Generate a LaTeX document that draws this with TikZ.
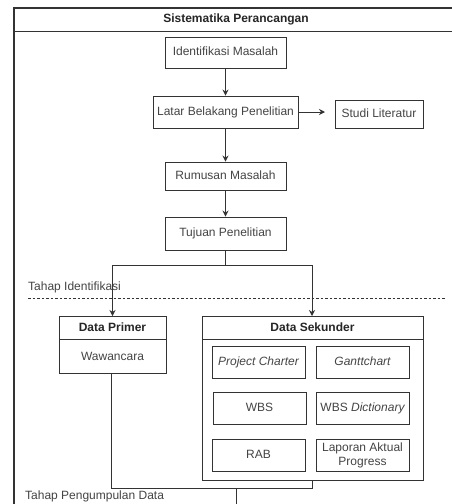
\documentclass[tikz,border=0pt]{standalone}
\usepackage{fontspec}
\setmainfont{Liberation Sans}
\usetikzlibrary{arrows.meta}
\definecolor{ln}{HTML}{333333}
\definecolor{tx}{HTML}{444444}
\tikzset{
  bx/.style={draw=ln, line width=0.9pt, text=tx, font=\fontsize{12}{13}\selectfont, inner sep=0pt, align=center, text height=8.6pt, text depth=2.5pt},
  bx2/.style={draw=ln, line width=0.9pt, text=tx, font=\fontsize{12}{13}\selectfont, inner sep=0pt, align=center},
  conn/.style={draw=ln, line width=0.9pt},
  arr/.style={conn, -{Stealth[length=6pt,width=6pt]}},
  lbl/.style={text=tx, font=\fontsize{12}{13}\selectfont, inner sep=0pt},
  ttl/.style={text=black!85, font=\fontsize{12}{13}\selectfont\bfseries, inner sep=0pt}
}
\begin{document}
\begin{tikzpicture}[x=1pt,y=-1pt]
\useasboundingbox[fill=white] (0,0) rectangle (451,504);
% outer container
\draw[ln, line width=1.3pt] (458,8) -- (14,8) -- (14,510);
\draw[ln, line width=0.9pt] (14,31) -- (458,31);
\node[ttl] (title) at (236,19.5) {Sistematika Perancangan};

% main flow
\node[bx, minimum width=121pt, minimum height=31pt] (idm) at (225.5,52.5) {Identifikasi Masalah};
\node[bx, minimum width=145pt, minimum height=32pt] (lbp) at (225.5,112) {Latar Belakang Penelitian};
\node[bx, minimum width=88pt, minimum height=28pt] (stl) at (379,114) {Studi Literatur};
\node[bx, minimum width=121pt, minimum height=28pt] (rm) at (225.5,176) {Rumusan Masalah};
\node[bx, minimum width=121pt, minimum height=33pt] (tp) at (225.5,233.5) {Tujuan Penelitian};

\draw[arr] (idm) -- (lbp);
\draw[arr] (lbp.east) -- (325,112) coordinate (stlin);
\draw[arr] (lbp) -- (rm);
\draw[arr] (rm) -- (tp);

% data primer
\draw[ln, line width=0.9pt] (59,316) rectangle (166,373);
\draw[ln, line width=0.9pt] (59,339) -- (166,339);
\coordinate (dpt) at (112.5,316);
\coordinate (dpb) at (111,373);
\node[ttl] (dp) at (112.5,327.5) {Data Primer};
\node[lbl] (ww) at (112.5,356) {Wawancara};

% data sekunder
\draw[ln, line width=0.9pt] (202,316) rectangle (423,480);
\draw[ln, line width=0.9pt] (202,339) -- (423,339);
\coordinate (dst) at (312,316);
\coordinate (dsb) at (312,480);
\node[ttl] (ds) at (312.5,327.5) {Data Sekunder};

\node[bx, minimum width=93pt, minimum height=32pt] (pc) at (258.5,362) {\itshape Project Charter};
\node[bx, minimum width=93pt, minimum height=32pt] (gc) at (362.5,362) {\itshape Ganttchart};
\node[bx, minimum width=93pt, minimum height=32pt] (wbs) at (259.5,408) {WBS};
\node[bx, minimum width=93pt, minimum height=32pt] (wbsd) at (362.5,408) {WBS \itshape Dictionary};
\node[bx, minimum width=93pt, minimum height=32pt] (rab) at (258.5,455) {RAB};
\node[bx2, minimum width=93pt, minimum height=32pt] (lap) at (362.5,455) {Laporan Aktual\\[1pt]Progress};

% split to data
\draw[conn] (tp.south) -- (225.5,265) coordinate (split);
\draw[arr] (split) -| (dpt);
\draw[arr] (split) -| (dst);

% tahap identifikasi
\node[lbl, anchor=west] (ti) at (28,287) {Tahap Identifikasi};
\draw[ln, line width=0.8pt, dash pattern=on 2.5pt off 2pt] (28,298) -- (445,298);

% merge
\draw[conn] (dpb) -- (111,488) coordinate (mL) -- (312,488) coordinate (mR) -- (dsb);
\draw[conn] (236,488) coordinate (mC) -- (236,510);

\node[lbl, anchor=west] (tpd) at (25,496) {Tahap Pengumpulan Data};
\end{tikzpicture}
\end{document}
